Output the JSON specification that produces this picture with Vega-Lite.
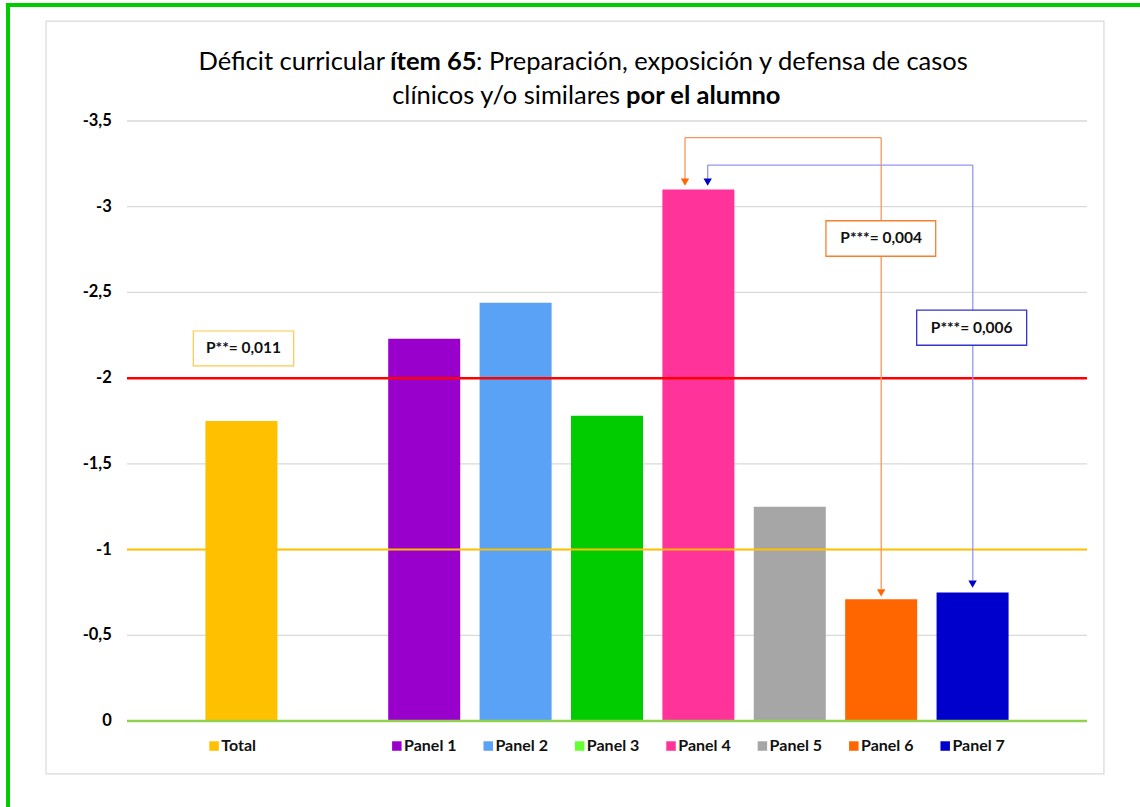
{
  "$schema": "https://vega.github.io/schema/vega-lite/v6.json",
  "width": 960,
  "height": 600,
  "autosize": {"type": "none"},
  "padding": {"left": 127, "top": 121, "right": 53, "bottom": 86},
  "background": "white",
  "config": {"view": {"stroke": null}, "font": "Lato"},
  "data": {"values": [
    {"grupo": "Total", "valor": -1.75},
    {"grupo": "Panel 1", "valor": -2.23},
    {"grupo": "Panel 2", "valor": -2.44},
    {"grupo": "Panel 3", "valor": -1.78},
    {"grupo": "Panel 4", "valor": -3.10},
    {"grupo": "Panel 5", "valor": -1.25},
    {"grupo": "Panel 6", "valor": -0.71},
    {"grupo": "Panel 7", "valor": -0.75}
  ]},
  "layer": [
    {
      "data": {"values": [{}]},
      "mark": {"type": "rule", "color": "#00cc00", "strokeWidth": 4},
      "encoding": {
        "x": {"datum": "Total", "type": "nominal", "bandPosition": -2.77, "axis": null, "scale": {"domain": ["Total", " ", "Panel 1", "Panel 2", "Panel 3", "Panel 4", "Panel 5", "Panel 6", "Panel 7"], "paddingInner": 0.212, "paddingOuter": 0.858}},
        "x2": {"datum": "Panel 7", "bandPosition": 2.9},
        "y": {"datum": -4.177, "type": "quantitative", "axis": null, "scale": {"domain": [0, -3.5], "nice": false, "zero": false}}
      }
    },
    {
      "data": {"values": [{}]},
      "mark": {"type": "rule", "color": "#00cc00", "strokeWidth": 4},
      "encoding": {
        "x": {"datum": "Total", "type": "nominal", "bandPosition": -2.741, "axis": null, "scale": {"domain": ["Total", " ", "Panel 1", "Panel 2", "Panel 3", "Panel 4", "Panel 5", "Panel 6", "Panel 7"], "paddingInner": 0.212, "paddingOuter": 0.858}},
        "y": {"datum": -4.188, "type": "quantitative", "axis": null, "scale": {"domain": [0, -3.5], "nice": false, "zero": false}},
        "y2": {"datum": 0.55}
      }
    },
    {
      "data": {"values": [{}]},
      "mark": {"type": "rect", "fill": "transparent", "stroke": "#d9d9d9", "strokeWidth": 1.2},
      "encoding": {
        "x": {"datum": "Total", "type": "nominal", "bandPosition": -2.213, "axis": null, "scale": {"domain": ["Total", " ", "Panel 1", "Panel 2", "Panel 3", "Panel 4", "Panel 5", "Panel 6", "Panel 7"], "paddingInner": 0.212, "paddingOuter": 0.858}},
        "x2": {"datum": "Panel 7", "bandPosition": 2.324},
        "y": {"datum": -4.083, "type": "quantitative", "axis": null, "scale": {"domain": [0, -3.5], "nice": false, "zero": false}},
        "y2": {"datum": 0.309}
      }
    },
    {
      "data": {"values": [
        {"marca": 0, "etiqueta": "0"},
        {"marca": -0.5, "etiqueta": "-0,5"},
        {"marca": -1, "etiqueta": "-1"},
        {"marca": -1.5, "etiqueta": "-1,5"},
        {"marca": -2, "etiqueta": "-2"},
        {"marca": -2.5, "etiqueta": "-2,5"},
        {"marca": -3, "etiqueta": "-3"},
        {"marca": -3.5, "etiqueta": "-3,5"}
      ]},
      "layer": [
        {
          "mark": {"type": "rule", "color": "#d9d9d9", "strokeWidth": 1.3},
          "encoding": {
            "y": {"field": "marca", "type": "quantitative", "axis": null, "scale": {"domain": [0, -3.5], "nice": false, "zero": false}}
          }
        },
        {
          "mark": {"type": "text", "font": "Lato", "fontWeight": "bold", "fontSize": 16.5, "color": "#000000", "align": "right", "baseline": "middle"},
          "encoding": {
            "x": {"datum": "Total", "type": "nominal", "bandPosition": -1.3, "axis": null, "scale": {"domain": ["Total", " ", "Panel 1", "Panel 2", "Panel 3", "Panel 4", "Panel 5", "Panel 6", "Panel 7"], "paddingInner": 0.212, "paddingOuter": 0.858}},
            "y": {"field": "marca", "type": "quantitative", "axis": null, "scale": {"domain": [0, -3.5], "nice": false, "zero": false}},
            "text": {"field": "etiqueta"}
          }
        }
      ]
    },
    {
      "mark": {"type": "bar"},
      "encoding": {
        "x": {"field": "grupo", "type": "nominal", "axis": null, "scale": {"domain": ["Total", " ", "Panel 1", "Panel 2", "Panel 3", "Panel 4", "Panel 5", "Panel 6", "Panel 7"], "paddingInner": 0.212, "paddingOuter": 0.858}},
        "y": {"field": "valor", "type": "quantitative", "axis": null, "scale": {"domain": [0, -3.5], "nice": false, "zero": false}},
        "color": {"field": "grupo", "type": "nominal", "legend": null,
          "scale": {"domain": ["Total", "Panel 1", "Panel 2", "Panel 3", "Panel 4", "Panel 5", "Panel 6", "Panel 7"],
                    "range": ["#ffc000", "#9900cc", "#5aa2f5", "#00cc00", "#ff3399", "#a6a6a6", "#ff6600", "#0000cc"]}}
      }
    },
    {
      "data": {"values": [{}]},
      "mark": {"type": "rule", "color": "#ffc000", "strokeWidth": 2},
      "encoding": {"y": {"datum": -1, "type": "quantitative", "axis": null, "scale": {"domain": [0, -3.5], "nice": false, "zero": false}}}
    },
    {
      "data": {"values": [{}]},
      "mark": {"type": "rule", "color": "#ff0000", "strokeWidth": 2.5},
      "encoding": {"y": {"datum": -2, "type": "quantitative", "axis": null, "scale": {"domain": [0, -3.5], "nice": false, "zero": false}}}
    },
    {
      "data": {"values": [{}]},
      "mark": {"type": "rule", "color": "#92d050", "strokeWidth": 2.5},
      "encoding": {"y": {"datum": 0, "type": "quantitative", "axis": null, "scale": {"domain": [0, -3.5], "nice": false, "zero": false}}}
    },
    {
      "data": {"values": [{}]},
      "mark": {"type": "rule", "color": "#f7955a", "strokeWidth": 1.3},
      "encoding": {
        "x": {"datum": "Panel 6", "type": "nominal", "bandPosition": 0.5, "axis": null, "scale": {"domain": ["Total", " ", "Panel 1", "Panel 2", "Panel 3", "Panel 4", "Panel 5", "Panel 6", "Panel 7"], "paddingInner": 0.212, "paddingOuter": 0.858}},
        "y": {"datum": -0.77, "type": "quantitative", "axis": null, "scale": {"domain": [0, -3.5], "nice": false, "zero": false}},
        "y2": {"datum": -3.403}
      }
    },
    {
      "data": {"values": [{}]},
      "mark": {"type": "rule", "color": "#f7955a", "strokeWidth": 1.3},
      "encoding": {
        "x": {"datum": "Panel 4", "type": "nominal", "bandPosition": 0.314, "axis": null, "scale": {"domain": ["Total", " ", "Panel 1", "Panel 2", "Panel 3", "Panel 4", "Panel 5", "Panel 6", "Panel 7"], "paddingInner": 0.212, "paddingOuter": 0.858}},
        "x2": {"datum": "Panel 6", "bandPosition": 0.5},
        "y": {"datum": -3.403, "type": "quantitative", "axis": null, "scale": {"domain": [0, -3.5], "nice": false, "zero": false}}
      }
    },
    {
      "data": {"values": [{}]},
      "mark": {"type": "rule", "color": "#f7955a", "strokeWidth": 1.3},
      "encoding": {
        "x": {"datum": "Panel 4", "type": "nominal", "bandPosition": 0.314, "axis": null, "scale": {"domain": ["Total", " ", "Panel 1", "Panel 2", "Panel 3", "Panel 4", "Panel 5", "Panel 6", "Panel 7"], "paddingInner": 0.212, "paddingOuter": 0.858}},
        "y": {"datum": -3.403, "type": "quantitative", "axis": null, "scale": {"domain": [0, -3.5], "nice": false, "zero": false}},
        "y2": {"datum": -3.16}
      }
    },
    {
      "data": {"values": [{}]},
      "mark": {"type": "rule", "color": "#9595ef", "strokeWidth": 1.3},
      "encoding": {
        "x": {"datum": "Panel 7", "type": "nominal", "bandPosition": 0.503, "axis": null, "scale": {"domain": ["Total", " ", "Panel 1", "Panel 2", "Panel 3", "Panel 4", "Panel 5", "Panel 6", "Panel 7"], "paddingInner": 0.212, "paddingOuter": 0.858}},
        "y": {"datum": -0.82, "type": "quantitative", "axis": null, "scale": {"domain": [0, -3.5], "nice": false, "zero": false}},
        "y2": {"datum": -3.243}
      }
    },
    {
      "data": {"values": [{}]},
      "mark": {"type": "rule", "color": "#9595ef", "strokeWidth": 1.3},
      "encoding": {
        "x": {"datum": "Panel 4", "type": "nominal", "bandPosition": 0.629, "axis": null, "scale": {"domain": ["Total", " ", "Panel 1", "Panel 2", "Panel 3", "Panel 4", "Panel 5", "Panel 6", "Panel 7"], "paddingInner": 0.212, "paddingOuter": 0.858}},
        "x2": {"datum": "Panel 7", "bandPosition": 0.503},
        "y": {"datum": -3.243, "type": "quantitative", "axis": null, "scale": {"domain": [0, -3.5], "nice": false, "zero": false}}
      }
    },
    {
      "data": {"values": [{}]},
      "mark": {"type": "rule", "color": "#9595ef", "strokeWidth": 1.3},
      "encoding": {
        "x": {"datum": "Panel 4", "type": "nominal", "bandPosition": 0.629, "axis": null, "scale": {"domain": ["Total", " ", "Panel 1", "Panel 2", "Panel 3", "Panel 4", "Panel 5", "Panel 6", "Panel 7"], "paddingInner": 0.212, "paddingOuter": 0.858}},
        "y": {"datum": -3.243, "type": "quantitative", "axis": null, "scale": {"domain": [0, -3.5], "nice": false, "zero": false}},
        "y2": {"datum": -3.16}
      }
    },
    {
      "data": {"values": [{}]},
      "mark": {"type": "rect", "fill": "white", "stroke": "#ffc84a", "strokeWidth": 1.2},
      "encoding": {
        "x": {"datum": "Total", "type": "nominal", "bandPosition": -0.168, "axis": null, "scale": {"domain": ["Total", " ", "Panel 1", "Panel 2", "Panel 3", "Panel 4", "Panel 5", "Panel 6", "Panel 7"], "paddingInner": 0.212, "paddingOuter": 0.858}},
        "x2": {"datum": "Total", "bandPosition": 1.226},
        "y": {"datum": -2.275, "type": "quantitative", "axis": null, "scale": {"domain": [0, -3.5], "nice": false, "zero": false}},
        "y2": {"datum": -2.071}
      }
    },
    {
      "data": {"values": [{}]},
      "mark": {"type": "rect", "fill": "white", "stroke": "#f7802f", "strokeWidth": 1.3},
      "encoding": {
        "x": {"datum": "Panel 6", "type": "nominal", "bandPosition": -0.267, "axis": null, "scale": {"domain": ["Total", " ", "Panel 1", "Panel 2", "Panel 3", "Panel 4", "Panel 5", "Panel 6", "Panel 7"], "paddingInner": 0.212, "paddingOuter": 0.858}},
        "x2": {"datum": "Panel 6", "bandPosition": 1.257},
        "y": {"datum": -2.918, "type": "quantitative", "axis": null, "scale": {"domain": [0, -3.5], "nice": false, "zero": false}},
        "y2": {"datum": -2.711}
      }
    },
    {
      "data": {"values": [{}]},
      "mark": {"type": "rect", "fill": "white", "stroke": "#3333cc", "strokeWidth": 1.3},
      "encoding": {
        "x": {"datum": "Panel 7", "type": "nominal", "bandPosition": -0.276, "axis": null, "scale": {"domain": ["Total", " ", "Panel 1", "Panel 2", "Panel 3", "Panel 4", "Panel 5", "Panel 6", "Panel 7"], "paddingInner": 0.212, "paddingOuter": 0.858}},
        "x2": {"datum": "Panel 7", "bandPosition": 1.251},
        "y": {"datum": -2.397, "type": "quantitative", "axis": null, "scale": {"domain": [0, -3.5], "nice": false, "zero": false}},
        "y2": {"datum": -2.192}
      }
    },
    {
      "data": {"values": [{"texto": "P**= 0,011", "grupo": "Total", "pos": -2.173}]},
      "mark": {"type": "text", "font": "Lato", "fontWeight": "bold", "fontSize": 15.5, "color": "#111111", "align": "center", "baseline": "middle"},
      "encoding": {
        "x": {"field": "grupo", "type": "nominal", "bandPosition": 0.529, "axis": null, "scale": {"domain": ["Total", " ", "Panel 1", "Panel 2", "Panel 3", "Panel 4", "Panel 5", "Panel 6", "Panel 7"], "paddingInner": 0.212, "paddingOuter": 0.858}},
        "y": {"field": "pos", "type": "quantitative", "axis": null, "scale": {"domain": [0, -3.5], "nice": false, "zero": false}},
        "text": {"field": "texto"}
      }
    },
    {
      "data": {"values": [{"texto": "P***= 0,004", "grupo": "Panel 6", "pos": -2.815}]},
      "mark": {"type": "text", "font": "Lato", "fontWeight": "bold", "fontSize": 15.5, "color": "#111111", "align": "center", "baseline": "middle"},
      "encoding": {
        "x": {"field": "grupo", "type": "nominal", "bandPosition": 0.5, "axis": null, "scale": {"domain": ["Total", " ", "Panel 1", "Panel 2", "Panel 3", "Panel 4", "Panel 5", "Panel 6", "Panel 7"], "paddingInner": 0.212, "paddingOuter": 0.858}},
        "y": {"field": "pos", "type": "quantitative", "axis": null, "scale": {"domain": [0, -3.5], "nice": false, "zero": false}},
        "text": {"field": "texto"}
      }
    },
    {
      "data": {"values": [{"texto": "P***= 0,006", "grupo": "Panel 7", "pos": -2.294}]},
      "mark": {"type": "text", "font": "Lato", "fontWeight": "bold", "fontSize": 15.5, "color": "#111111", "align": "center", "baseline": "middle"},
      "encoding": {
        "x": {"field": "grupo", "type": "nominal", "bandPosition": 0.487, "axis": null, "scale": {"domain": ["Total", " ", "Panel 1", "Panel 2", "Panel 3", "Panel 4", "Panel 5", "Panel 6", "Panel 7"], "paddingInner": 0.212, "paddingOuter": 0.858}},
        "y": {"field": "pos", "type": "quantitative", "axis": null, "scale": {"domain": [0, -3.5], "nice": false, "zero": false}},
        "text": {"field": "texto"}
      }
    },
    {
      "data": {"values": [{"grupo": "Panel 4", "pos": -3.144}]},
      "mark": {"type": "point", "shape": "triangle-down", "filled": true, "size": 70, "color": "#ff6600", "opacity": 1},
      "encoding": {
        "x": {"field": "grupo", "type": "nominal", "bandPosition": 0.314, "axis": null, "scale": {"domain": ["Total", " ", "Panel 1", "Panel 2", "Panel 3", "Panel 4", "Panel 5", "Panel 6", "Panel 7"], "paddingInner": 0.212, "paddingOuter": 0.858}},
        "y": {"field": "pos", "type": "quantitative", "axis": null, "scale": {"domain": [0, -3.5], "nice": false, "zero": false}}
      }
    },
    {
      "data": {"values": [{"grupo": "Panel 6", "pos": -0.747}, {"grupo": "Panel 7", "pos": -0.799}]},
      "mark": {"type": "point", "shape": "triangle-down", "filled": true, "size": 70, "opacity": 1},
      "encoding": {
        "x": {"field": "grupo", "type": "nominal", "bandPosition": 0.5, "axis": null, "scale": {"domain": ["Total", " ", "Panel 1", "Panel 2", "Panel 3", "Panel 4", "Panel 5", "Panel 6", "Panel 7"], "paddingInner": 0.212, "paddingOuter": 0.858}},
        "y": {"field": "pos", "type": "quantitative", "axis": null, "scale": {"domain": [0, -3.5], "nice": false, "zero": false}},
        "color": {"field": "grupo", "type": "nominal", "legend": null, "scale": {"domain": ["Total", "Panel 1", "Panel 2", "Panel 3", "Panel 4", "Panel 5", "Panel 6", "Panel 7"], "range": ["#ffc000", "#9900cc", "#5aa2f5", "#00cc00", "#ff3399", "#a6a6a6", "#ff6600", "#0000cc"]}}
      }
    },
    {
      "data": {"values": [{"grupo": "Panel 4", "pos": -3.144}]},
      "mark": {"type": "point", "shape": "triangle-down", "filled": true, "size": 70, "color": "#0000cc", "opacity": 1},
      "encoding": {
        "x": {"field": "grupo", "type": "nominal", "bandPosition": 0.629, "axis": null, "scale": {"domain": ["Total", " ", "Panel 1", "Panel 2", "Panel 3", "Panel 4", "Panel 5", "Panel 6", "Panel 7"], "paddingInner": 0.212, "paddingOuter": 0.858}},
        "y": {"field": "pos", "type": "quantitative", "axis": null, "scale": {"domain": [0, -3.5], "nice": false, "zero": false}}
      }
    },
    {
      "mark": {"type": "square", "size": 90, "opacity": 1},
      "encoding": {
        "x": {"field": "grupo", "type": "nominal", "bandPosition": 0.12, "axis": null, "scale": {"domain": ["Total", " ", "Panel 1", "Panel 2", "Panel 3", "Panel 4", "Panel 5", "Panel 6", "Panel 7"], "paddingInner": 0.212, "paddingOuter": 0.858}},
        "y": {"datum": 0.146, "type": "quantitative", "axis": null, "scale": {"domain": [0, -3.5], "nice": false, "zero": false}},
        "fill": {"field": "grupo", "type": "nominal", "legend": null,
          "scale": {"domain": ["Total", "Panel 1", "Panel 2", "Panel 3", "Panel 4", "Panel 5", "Panel 6", "Panel 7"],
                    "range": ["#ffc000", "#9900cc", "#5aa2f5", "#66ff33", "#ff3399", "#a6a6a6", "#ff6600", "#0000cc"]}}
      }
    },
    {
      "mark": {"type": "text", "font": "Lato", "fontWeight": "bold", "fontSize": 16, "color": "#111111", "align": "left", "baseline": "middle"},
      "encoding": {
        "x": {"field": "grupo", "type": "nominal", "bandPosition": 0.22, "axis": null, "scale": {"domain": ["Total", " ", "Panel 1", "Panel 2", "Panel 3", "Panel 4", "Panel 5", "Panel 6", "Panel 7"], "paddingInner": 0.212, "paddingOuter": 0.858}},
        "y": {"datum": 0.146, "type": "quantitative", "axis": null, "scale": {"domain": [0, -3.5], "nice": false, "zero": false}},
        "text": {"field": "grupo"}
      }
    },
    {
      "data": {"values": [
        {"texto": "Déficit curricular", "grupo": "Panel 1", "linea": -3.797},
        {"texto": "clínicos y/o similares", "grupo": "Panel 3", "linea": -3.599}
      ]},
      "layer": [
        {
          "transform": [{"filter": "datum.grupo == 'Panel 1'"}],
          "mark": {"type": "text", "font": "Lato", "fontSize": 25.5, "color": "#000000", "align": "right", "baseline": "alphabetic"},
          "encoding": {
            "x": {"field": "grupo", "type": "nominal", "bandPosition": -0.044, "axis": null, "scale": {"domain": ["Total", " ", "Panel 1", "Panel 2", "Panel 3", "Panel 4", "Panel 5", "Panel 6", "Panel 7"], "paddingInner": 0.212, "paddingOuter": 0.858}},
            "y": {"field": "linea", "type": "quantitative", "axis": null, "scale": {"domain": [0, -3.5], "nice": false, "zero": false}},
            "text": {"field": "texto"}
          }
        },
        {
          "transform": [{"filter": "datum.grupo == 'Panel 3'"}],
          "mark": {"type": "text", "font": "Lato", "fontSize": 25.5, "color": "#000000", "align": "right", "baseline": "alphabetic"},
          "encoding": {
            "x": {"field": "grupo", "type": "nominal", "bandPosition": 0.68, "axis": null, "scale": {"domain": ["Total", " ", "Panel 1", "Panel 2", "Panel 3", "Panel 4", "Panel 5", "Panel 6", "Panel 7"], "paddingInner": 0.212, "paddingOuter": 0.858}},
            "y": {"field": "linea", "type": "quantitative", "axis": null, "scale": {"domain": [0, -3.5], "nice": false, "zero": false}},
            "text": {"field": "texto"}
          }
        }
      ]
    },
    {
      "data": {"values": [
        {"texto": "ítem 65", "grupo": "Panel 1", "linea": -3.797},
        {"texto": "por el alumno", "grupo": "Panel 3", "linea": -3.599}
      ]},
      "layer": [
        {
          "transform": [{"filter": "datum.grupo == 'Panel 1'"}],
          "mark": {"type": "text", "font": "Lato", "fontSize": 25.5, "fontWeight": "bold", "color": "#000000", "align": "left", "baseline": "alphabetic"},
          "encoding": {
            "x": {"field": "grupo", "type": "nominal", "bandPosition": 0.025, "axis": null, "scale": {"domain": ["Total", " ", "Panel 1", "Panel 2", "Panel 3", "Panel 4", "Panel 5", "Panel 6", "Panel 7"], "paddingInner": 0.212, "paddingOuter": 0.858}},
            "y": {"field": "linea", "type": "quantitative", "axis": null, "scale": {"domain": [0, -3.5], "nice": false, "zero": false}},
            "text": {"field": "texto"}
          }
        },
        {
          "transform": [{"filter": "datum.grupo == 'Panel 3'"}],
          "mark": {"type": "text", "font": "Lato", "fontSize": 25.5, "fontWeight": "bold", "color": "#000000", "align": "left", "baseline": "alphabetic"},
          "encoding": {
            "x": {"field": "grupo", "type": "nominal", "bandPosition": 0.764, "axis": null, "scale": {"domain": ["Total", " ", "Panel 1", "Panel 2", "Panel 3", "Panel 4", "Panel 5", "Panel 6", "Panel 7"], "paddingInner": 0.212, "paddingOuter": 0.858}},
            "y": {"field": "linea", "type": "quantitative", "axis": null, "scale": {"domain": [0, -3.5], "nice": false, "zero": false}},
            "text": {"field": "texto"}
          }
        }
      ]
    },
    {
      "data": {"values": [
        {"texto": ": Preparación, exposición y defensa de casos", "grupo": "Panel 1", "linea": -3.797}
      ]},
      "mark": {"type": "text", "font": "Lato", "fontSize": 25.5, "color": "#000000", "align": "left", "baseline": "alphabetic"},
      "encoding": {
        "x": {"field": "grupo", "type": "nominal", "bandPosition": 1.219, "axis": null, "scale": {"domain": ["Total", " ", "Panel 1", "Panel 2", "Panel 3", "Panel 4", "Panel 5", "Panel 6", "Panel 7"], "paddingInner": 0.212, "paddingOuter": 0.858}},
        "y": {"field": "linea", "type": "quantitative", "axis": null, "scale": {"domain": [0, -3.5], "nice": false, "zero": false}},
        "text": {"field": "texto"}
      }
    }
  ],
  "resolve": {"scale": {"color": "independent", "fill": "independent"}}
}
